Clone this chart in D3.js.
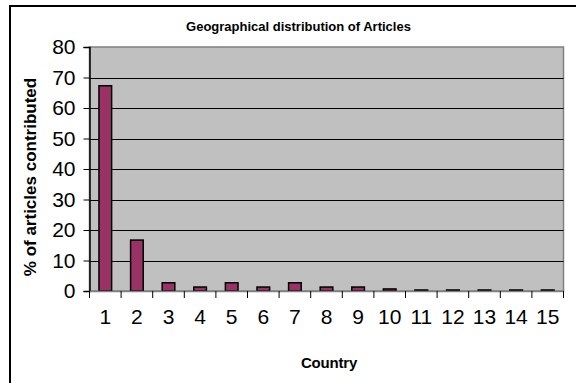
<!DOCTYPE html>
<html>
<head>
<meta charset="utf-8">
<script src="https://cdn.jsdelivr.net/npm/d3@7"></script>
<style>
  html, body { margin: 0; padding: 0; background: #fff; }
  svg { display: block; font-family: Arial, "Liberation Sans", sans-serif; }
</style>
</head>
<body>
<svg id="chart" width="576" height="383"></svg>
<script>
// Share of articles contributed by each country (%)
const countries = ["1","2","3","4","5","6","7","8","9","10","11","12","13","14","15"];
const percentages = [67.3, 16.7, 2.7, 1.3, 2.7, 1.3, 2.7, 1.3, 1.3, 0.67, 0.33, 0.33, 0.33, 0.33, 0.33];
const yTicks = [0, 10, 20, 30, 40, 50, 60, 70, 80];

const svg = d3.select("#chart");
const plot = { left: 89.5, right: 563.5, top: 47, bottom: 291 };

// outer chart frame
svg.append("rect")
  .attr("x", 10).attr("y", 6)
  .attr("width", 580).attr("height", 390)
  .attr("fill", "none").attr("stroke", "#000").attr("stroke-width", 2);

const x = d3.scaleBand().domain(countries).range([plot.left, plot.right]).paddingInner(0).paddingOuter(0);
const y = d3.scaleLinear().domain([0, 80]).range([plot.bottom, plot.top]);

// plot background
svg.append("rect")
  .attr("x", plot.left).attr("y", plot.top)
  .attr("width", plot.right - plot.left).attr("height", plot.bottom - plot.top)
  .attr("fill", "#c0c0c0").attr("stroke", "#808080").attr("stroke-width", 1.5);

// horizontal gridlines
svg.append("g").selectAll("line")
  .data(yTicks.filter(d => d > 0 && d < 80))
  .join("line")
  .attr("x1", plot.left).attr("x2", plot.right)
  .attr("y1", d => Math.round(y(d)) + 0.5).attr("y2", d => Math.round(y(d)) + 0.5)
  .attr("stroke", "#000").attr("stroke-width", 1);

// bars
const barW = x.bandwidth() * 0.4;
svg.append("g").selectAll("rect")
  .data(countries.map((c, i) => ({ c, v: percentages[i] })))
  .join("rect")
  .attr("x", d => x(d.c) + (x.bandwidth() - barW) / 2)
  .attr("y", d => y(d.v))
  .attr("width", barW)
  .attr("height", d => y(0) - y(d.v))
  .attr("fill", "#993366")
  .attr("stroke", "#000")
  .attr("stroke-width", 1.5);

// y axis
const yAxis = svg.append("g")
  .attr("transform", `translate(${plot.left},0)`)
  .call(d3.axisLeft(y).tickValues(yTicks).tickSize(6).tickPadding(8));
yAxis.select(".domain").attr("stroke", "#000").attr("stroke-width", 1.5);
yAxis.selectAll(".tick line").attr("stroke", "#000");
yAxis.selectAll("text").attr("font-size", 21).attr("font-family", "Arial, 'Liberation Sans', sans-serif").attr("fill", "#000");

// x axis: ticks sit on the category boundaries
const xAxis = svg.append("g")
  .attr("transform", `translate(0,${plot.bottom})`)
  .call(d3.axisBottom(x).tickSize(0).tickPadding(18));
xAxis.select(".domain").attr("stroke", "#808080").attr("stroke-width", 1.5);
xAxis.selectAll("text").attr("font-size", 21).attr("font-family", "Arial, 'Liberation Sans', sans-serif").attr("fill", "#000");
svg.append("g").selectAll("line")
  .data(countries.map(c => x(c)).concat([plot.right]))
  .join("line")
  .attr("x1", d => d).attr("x2", d => d)
  .attr("y1", plot.bottom).attr("y2", plot.bottom + 7)
  .attr("stroke", "#000").attr("stroke-width", 1);

// title
svg.append("text")
  .attr("x", 298.5).attr("y", 31)
  .attr("text-anchor", "middle")
  .attr("font-size", 13).attr("font-weight", "bold")
  .attr("letter-spacing", 0)
  .text("Geographical distribution of Articles");

// axis titles
svg.append("text")
  .attr("x", 329).attr("y", 368)
  .attr("text-anchor", "middle")
  .attr("font-size", 15).attr("font-weight", "bold")
  .attr("letter-spacing", -0.2)
  .text("Country");

svg.append("text")
  .attr("transform", "translate(36,177) rotate(-90)")
  .attr("text-anchor", "middle")
  .attr("font-size", 17).attr("font-weight", "bold")
  .text("% of articles contributed");
</script>
</body>
</html>
